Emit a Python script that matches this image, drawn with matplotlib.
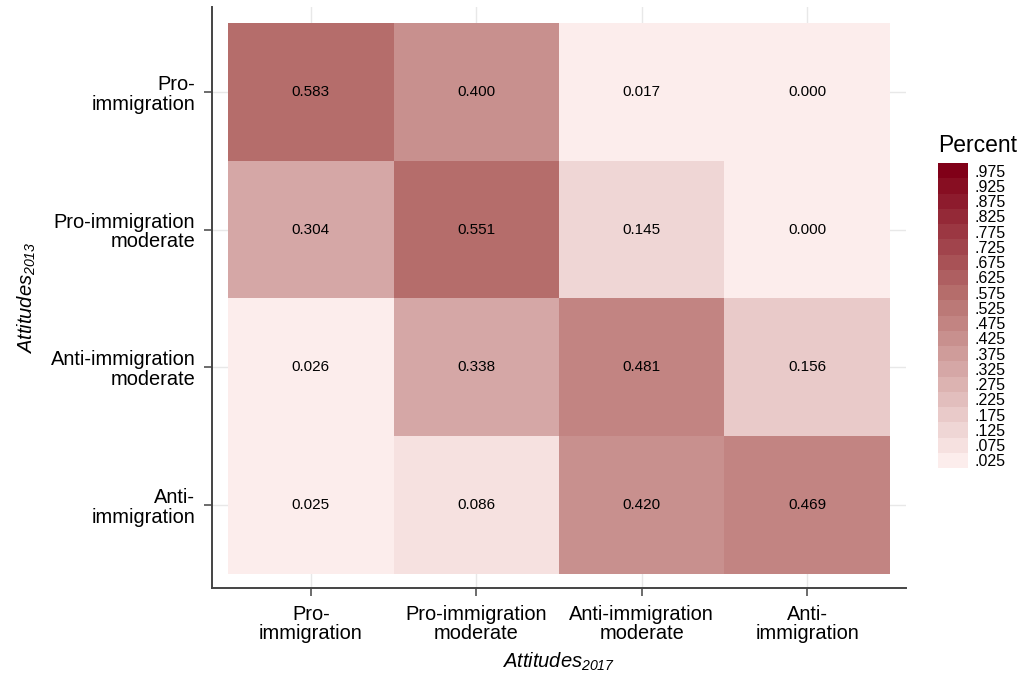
import numpy as np
import matplotlib
matplotlib.use("Agg")
import matplotlib.pyplot as plt
from matplotlib.colors import ListedColormap, BoundaryNorm

# ---- data ----
categories = ["Pro-\nimmigration", "Pro-immigration\nmoderate",
              "Anti-immigration\nmoderate", "Anti-\nimmigration"]
row0 = [0.583, 0.400, 0.017, 0.000]
row1 = [0.304, 0.551, 0.145, 0.000]
row2 = [0.026, 0.338, 0.481, 0.156]
row3 = [0.025, 0.086, 0.420, 0.469]
bin_edges = np.round(np.arange(0, 1.0001, 0.05), 3)
legend_labels = [".025", ".075", ".125", ".175", ".225", ".275", ".325", ".375",
                 ".425", ".475", ".525", ".575", ".625", ".675", ".725", ".775",
                 ".825", ".875", ".925", ".975"]

values = np.array([row0, row1, row2, row3])

# ---- style ----
plt.rcParams["font.family"] = ["Liberation Sans", "DejaVu Sans"]
plt.rcParams["mathtext.fontset"] = "custom"
plt.rcParams["mathtext.rm"] = "Liberation Sans:italic"
plt.rcParams["mathtext.it"] = "Liberation Sans:italic"

anchors_t = [0.0, 11 / 19, 1.0]
anchors_c = np.array([[252, 237, 236], [181, 109, 107], [128, 0, 24]]) / 255.0
n = len(bin_edges) - 1
ts = np.linspace(0, 1, n)
cols = np.stack([np.interp(ts, anchors_t, anchors_c[:, k]) for k in range(3)], axis=1)
cmap = ListedColormap(cols)
norm = BoundaryNorm(bin_edges, cmap.N)

fig = plt.figure(figsize=(10.22, 6.82), dpi=100)
W, H = 1022, 682
ax = fig.add_axes([212 / W, 1 - 588 / H, (906 - 212) / W, (588 - 7) / H])

ax.pcolormesh(np.arange(5) - 0.5, np.arange(5) - 0.5, values, cmap=cmap, norm=norm,
              zorder=2)
for i in range(values.shape[0]):
    for j in range(values.shape[1]):
        ax.text(j, i, f"{values[i, j]:.3f}", ha="center", va="center",
                fontsize=11, color="black", zorder=3)

ax.set_xlim(-0.597, 3.597)
ax.set_ylim(3.602, -0.616)
ax.set_xticks(range(4))
ax.set_yticks(range(4))
ax.set_xticklabels(categories, fontsize=14.4, linespacing=1.05)
ax.set_yticklabels(categories, fontsize=14.4, linespacing=1.05)
ax.grid(True, color="#e8e8e8", linewidth=1.0, zorder=0)
ax.set_axisbelow(True)
for s in ["top", "right"]:
    ax.spines[s].set_visible(False)
for s in ["left", "bottom"]:
    ax.spines[s].set_color("#444444")
    ax.spines[s].set_linewidth(1.4)
ax.tick_params(direction="out", length=6, width=1.1, color="#444444", pad=6)
ax.set_xlabel(r"$Attitudes_{2017}$", fontsize=14.5, labelpad=5)
ax.set_ylabel(r"$Attitudes_{2013}$", fontsize=14.5, labelpad=9)

# ---- legend ----
lax = fig.add_axes([938 / W, 1 - 468 / H, 30 / W, (468 - 163) / H])
centers = (bin_edges[:-1] + bin_edges[1:]) / 2
lax.pcolormesh([0, 1], bin_edges, centers.reshape(-1, 1), cmap=cmap, norm=norm)
lax.set_xlim(0, 1)
lax.set_ylim(0, 1)
for sp in lax.spines.values():
    sp.set_visible(False)
lax.set_xticks([])
lax.yaxis.tick_right()
lax.set_yticks(centers)
lax.set_yticklabels(legend_labels, fontsize=11.5)
lax.tick_params(axis="y", length=0, pad=5)
fig.text(978 / W, 1 - 145 / H, "Percent", ha="center", va="center", fontsize=16.5)

fig.savefig("out.png", dpi=100)
